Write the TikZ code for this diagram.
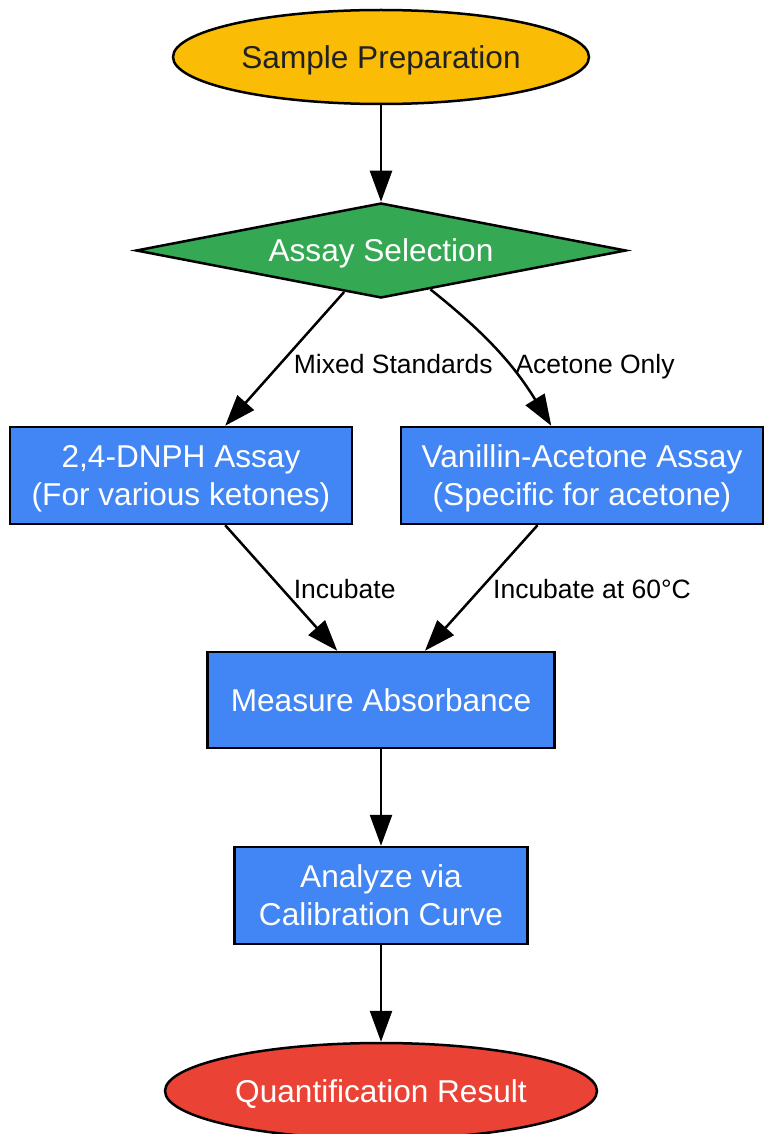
\documentclass[tikz,border=0pt]{standalone}
\usepackage{fontspec}
\setmainfont{Liberation Sans}
\usetikzlibrary{shapes.geometric,arrows.meta}
\definecolor{gyellow}{HTML}{FBBC05}
\definecolor{ggreen}{HTML}{34A853}
\definecolor{gblue}{HTML}{4285F4}
\definecolor{gred}{HTML}{EA4335}
\definecolor{darktext}{HTML}{202124}
\newcommand\dnlines[1]{\raisebox{-3.5pt}[\height][\depth]{\begin{tabular}{@{}c@{}}#1\end{tabular}}}
\begin{document}
\begin{tikzpicture}[x=1pt,y=-1pt,
  base/.style={draw=black, line width=2.5pt, inner sep=0pt, align=center,
    font=\fontsize{31.6}{38}\selectfont},
  oval/.style={base, ellipse},
  box/.style={base, rectangle, fill=gblue, text=white},
  choice/.style={base, diamond, fill=ggreen, text=white, aspect=5.16},
  conn/.style={draw=black, line width=2.5pt, -{Triangle[length=31pt,width=22pt]}},
  lbl/.style={inner sep=0pt, anchor=west, text=black, font=\fontsize{26.5}{32}\selectfont}
]
\useasboundingbox (0,0) rectangle (765,1134);

\node[oval, fill=gyellow, text=darktext, minimum width=416pt, minimum height=94pt] (prep) at (381,57) {\dnlines{Sample Preparation}};
\node[choice, minimum width=490pt, minimum height=95pt] (sel) at (381,250.5) {\dnlines{Assay Selection}};
\node[box, minimum width=342pt, minimum height=97pt] (dnph) at (181,475.5) {\dnlines{2,4-DNPH Assay\\(For various ketones)}};
\node[box, minimum width=362pt, minimum height=97pt] (van) at (582,475.5) {\dnlines{Vanillin-Acetone Assay\\(Specific for acetone)}};
\node[box, minimum width=347pt, minimum height=96pt] (meas) at (381,700) {\dnlines{Measure Absorbance}};
\node[box, minimum width=293pt, minimum height=97pt] (anal) at (381,895.5) {\dnlines{Analyze via\\Calibration Curve}};
\node[oval, fill=gred, text=white, minimum width=432pt, minimum height=96pt] (res) at (381,1091) {\dnlines{Quantification Result}};

\draw[conn] (prep) -- (sel);
\draw[conn] (sel) -- node[lbl, pos=0.538, xshift=12.5pt] {Mixed Standards} (dnph);
\draw[conn] (sel) to[bend left=10] node[lbl, pos=0.55, xshift=11pt, yshift=-9pt] {Acetone Only} (van);
\draw[conn] (dnph) -- node[lbl, pos=0.512, xshift=10pt] {Incubate} (meas);
\draw[conn] (van) -- node[lbl, pos=0.512, xshift=12pt] {Incubate at 60°C} (meas);
\draw[conn] (meas) -- (anal);
\draw[conn] (anal) -- (res);
\end{tikzpicture}
\end{document}
